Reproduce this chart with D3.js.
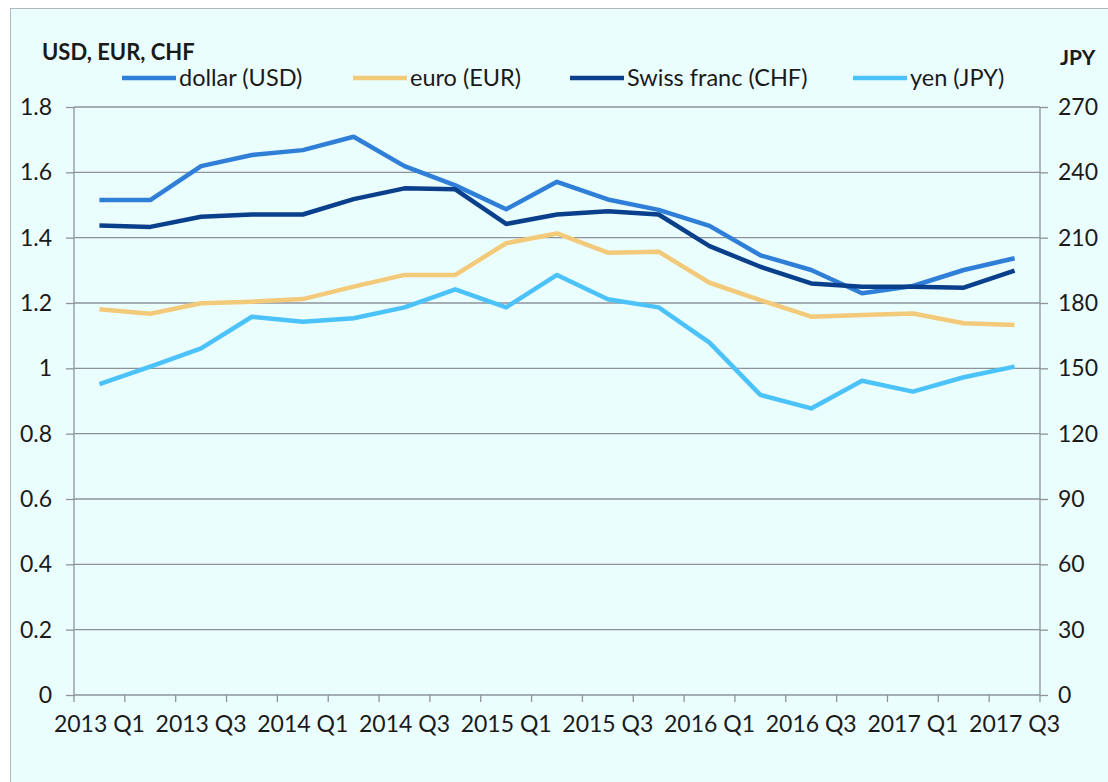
<!DOCTYPE html>
<html>
<head>
<meta charset="utf-8">
<script src="https://cdn.jsdelivr.net/npm/d3@7"></script>
<style>
  body { margin: 0; background: #fff; }
  text { font-family: Lato, "Noto Sans", sans-serif; fill: #1a1a1a; }
</style>
</head>
<body>
<div id="chart"></div>
<script>
// quarters, 2013 Q1 .. 2017 Q3
var quarters = ["2013 Q1","2013 Q2","2013 Q3","2013 Q4","2014 Q1","2014 Q2","2014 Q3","2014 Q4",
  "2015 Q1","2015 Q2","2015 Q3","2015 Q4","2016 Q1","2016 Q2","2016 Q3","2016 Q4",
  "2017 Q1","2017 Q2","2017 Q3"];

var usd = [1.515, 1.515, 1.619, 1.653, 1.668, 1.709, 1.619, 1.56, 1.487, 1.571,
  1.517, 1.485, 1.436, 1.346, 1.301, 1.23, 1.252, 1.301, 1.337];
var eur = [1.181, 1.167, 1.199, 1.204, 1.212, 1.25, 1.286, 1.286, 1.383, 1.413,
  1.354, 1.357, 1.262, 1.209, 1.158, 1.163, 1.168, 1.138, 1.133];
var chf = [1.437, 1.433, 1.464, 1.471, 1.471, 1.518, 1.551, 1.548, 1.442, 1.471,
  1.481, 1.471, 1.374, 1.311, 1.26, 1.25, 1.25, 1.247, 1.299];
var jpy = [142.8, 150.8, 159.2, 173.7, 171.4, 173.0, 178.0, 186.3, 178.0, 192.9,
  181.7, 178.0, 161.8, 137.8, 131.6, 144.3, 139.3, 145.9, 150.8];

var leftTicks = [0, 0.2, 0.4, 0.6, 0.8, 1, 1.2, 1.4, 1.6, 1.8];
var rightTicks = [0, 30, 60, 90, 120, 150, 180, 210, 240, 270];

var series = [
  {name: "dollar (USD)", values: usd, color: "#2f7fd8", axis: "left"},
  {name: "euro (EUR)", values: eur, color: "#f3c97a", axis: "left"},
  {name: "Swiss franc (CHF)", values: chf, color: "#0a3f8c", axis: "left"},
  {name: "yen (JPY)", values: jpy, color: "#4cc2fb", axis: "right"}
];

var W = 1108, H = 782;
var plotL = 74, plotR = 1040, plotT = 107, plotB = 695;

var svg = d3.select("#chart").append("svg")
    .attr("width", W)
    .attr("height", H);

// frame
svg.append("rect")
    .attr("x", 10.5).attr("y", 8.5)
    .attr("width", W).attr("height", H)
    .attr("fill", "#ebfefe")
    .attr("stroke", "#b4b8bd")
    .attr("stroke-width", 1);

var x = d3.scaleBand().domain(quarters).range([plotL, plotR]);
var yL = d3.scaleLinear().domain([0, 1.8]).range([plotB, plotT]);
var yR = d3.scaleLinear().domain([0, 270]).range([plotB, plotT]);

var gridColor = "#8c939b";

// gridlines
svg.append("g")
    .selectAll("line")
    .data(leftTicks.filter(function(d) { return d > 0; }))
    .enter().append("line")
    .attr("x1", plotL).attr("x2", plotR)
    .attr("y1", function(d) { return yL(d); })
    .attr("y2", function(d) { return yL(d); })
    .attr("stroke", gridColor)
    .attr("stroke-width", 1.3);

// left axis
var axL = svg.append("g")
    .attr("transform", "translate(" + plotL + ",0)")
    .call(d3.axisLeft(yL).tickValues(leftTicks).tickSize(8).tickPadding(14)
      .tickFormat(function(d) { return d3.format("~g")(d); }));

// right axis
var axR = svg.append("g")
    .attr("transform", "translate(" + plotR + ",0)")
    .call(d3.axisRight(yR).tickValues(rightTicks).tickSize(8).tickPadding(10));

// bottom axis: ticks on category boundaries, labels every 2nd quarter
var bounds = d3.range(quarters.length + 1).map(function(i) { return plotL + i * x.step(); });
var axB = svg.append("g");
axB.append("line")
    .attr("x1", plotL).attr("x2", plotR)
    .attr("y1", plotB).attr("y2", plotB)
    .attr("stroke", gridColor).attr("stroke-width", 1.3);
axB.selectAll(".tk")
    .data(bounds)
    .enter().append("line")
    .attr("class", "tk")
    .attr("x1", function(d) { return d; }).attr("x2", function(d) { return d; })
    .attr("y1", plotB).attr("y2", plotB + 7)
    .attr("stroke", gridColor).attr("stroke-width", 1.3);
axB.selectAll("text")
    .data(quarters.filter(function(d, i) { return i % 2 === 0; }))
    .enter().append("text")
    .attr("x", function(d) { return x(d) + x.bandwidth() / 2; })
    .attr("y", 732)
    .attr("text-anchor", "middle")
    .style("font-size", "23px")
    .text(function(d) { return d; });

[axL, axR].forEach(function(a) {
  a.select(".domain").attr("stroke", gridColor).attr("stroke-width", 1.3);
  a.selectAll(".tick line").attr("stroke", gridColor).attr("stroke-width", 1.3);
  a.selectAll(".tick text")
    .style("font-size", "23px")
    .style("font-family", "Lato, 'Noto Sans', sans-serif")
    .attr("fill", "#1a1a1a");
});
axR.select(".domain").attr("d", "M0," + plotT + "V" + plotB);
axL.select(".domain").attr("d", "M0," + plotT + "V" + plotB);

// lines
series.forEach(function(s) {
  var yy = s.axis === "left" ? yL : yR;
  var line = d3.line()
      .x(function(d, i) { return x(quarters[i]) + x.bandwidth() / 2; })
      .y(function(d) { return yy(d); });
  svg.append("path")
      .datum(s.values)
      .attr("d", line)
      .attr("fill", "none")
      .attr("stroke", s.color)
      .attr("stroke-width", 4.5)
      .attr("stroke-linejoin", "round");
});

// axis titles
svg.append("text")
    .attr("x", 42).attr("y", 60)
    .style("font-size", "22px").style("font-weight", "bold")
    .text("USD, EUR, CHF");
svg.append("text")
    .attr("x", 1060).attr("y", 65)
    .style("font-size", "21px").style("font-weight", "bold")
    .text("JPY");

// legend
var legendX = [122, 353, 570, 853];
var leg = svg.append("g")
    .selectAll("g")
    .data(series)
    .enter().append("g")
    .attr("transform", function(d, i) { return "translate(" + legendX[i] + ",78)"; });
leg.append("line")
    .attr("x1", 0).attr("x2", 54)
    .attr("stroke", function(d) { return d.color; })
    .attr("stroke-width", 4.5);
leg.append("text")
    .attr("x", 57).attr("y", 8)
    .style("font-size", "23.5px")
    .text(function(d) { return d.name; });
</script>
</body>
</html>
